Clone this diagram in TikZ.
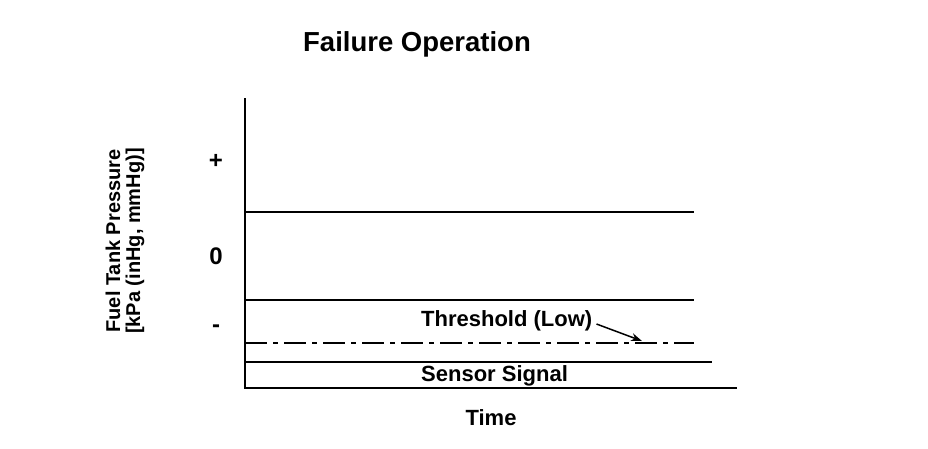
\documentclass[tikz,border=0pt]{standalone}
\usepackage{fontspec}
\setmainfont{Liberation Sans}
\usetikzlibrary{arrows.meta}
\begin{document}
\begin{tikzpicture}[x=1pt,y=-1pt,
  lbl/.style={font=\fontsize{22}{22}\selectfont\bfseries, inner sep=0pt},
  sgn/.style={font=\fontsize{24}{24}\selectfont\bfseries, inner sep=0pt},
  ttl/.style={font=\fontsize{27.5}{27.5}\selectfont\bfseries, inner sep=0pt},
  ax/.style={line width=2pt},
  lvl/.style={line width=1.6pt},
  thr/.style={line width=2pt, dash pattern=on 22pt off 6pt on 5pt off 6pt},
  ptr/.style={line width=1.5pt, -{Stealth[length=11pt,width=8pt]}}]
\useasboundingbox (0,0) rectangle (928,448);
% title
\node[ttl] (title) at (417,44) {Failure Operation};
% axes
\coordinate (ytop) at (245,98);
\coordinate (orig) at (245,388);
\coordinate (xend) at (737,388);
\draw[ax] (ytop) -- (orig) -- (xend);
% level lines
\coordinate (a1) at (245,212); \coordinate (a2) at (694,212);
\coordinate (b1) at (245,300); \coordinate (b2) at (694,300);
\coordinate (c1) at (245,343); \coordinate (c2) at (694,343);
\coordinate (d1) at (245,362); \coordinate (d2) at (712,362);
\draw[lvl] (a1) -- (a2);
\draw[lvl] (b1) -- (b2);
\draw[thr] (c1) -- (c2);
\draw[lvl] (d1) -- (d2);
% labels
\node[lbl, anchor=west] (thrlbl) at (421,321) {Threshold (Low)};
\node[lbl, anchor=west] (senlbl) at (421,376) {Sensor Signal};
\coordinate (ptrend) at (642,341);
\draw[ptr] ([xshift=4pt,yshift=-3pt]thrlbl.east) -- (ptrend);
\node[lbl] (time) at (491,418) {Time};
\node[sgn] (plus) at (216,161) {+};
\node[sgn] (zero) at (216,256) {0};
\node[sgn] (minus) at (216,329) {-};
\node[lbl, rotate=90, align=center, font=\fontsize{20}{20}\selectfont\bfseries] (ylab) at (125,241) {Fuel Tank Pressure\\{}{[kPa (inHg, mmHg)]}};
\end{tikzpicture}
\end{document}
